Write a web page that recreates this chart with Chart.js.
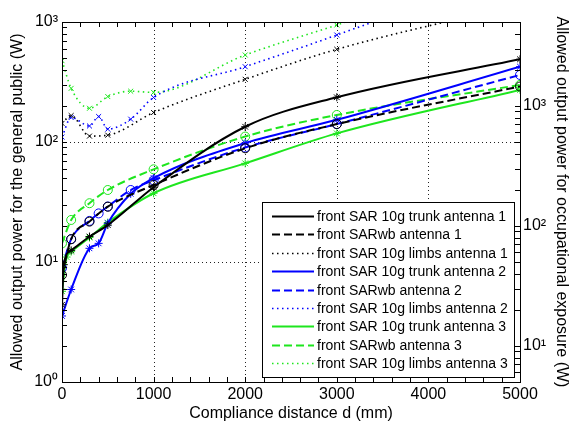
<!DOCTYPE html>
<html>
<head>
<meta charset="utf-8">
<script src="https://cdn.jsdelivr.net/npm/chart.js@4.4.0/dist/chart.umd.min.js"></script>
<style>
  html, body { margin: 0; padding: 0; background: #fff; }
  #wrap { width: 573px; height: 433px; }
</style>
</head>
<body>
<div id="wrap"><canvas id="chart" width="573" height="433"></canvas></div>
<script>
'use strict';

// distances (mm) and allowed power (W)
const dTrunk1 = [0, 20, 100, 300, 500, 1000, 2000, 3000, 5000];
const pTrunk1 = [4.4, 9.5, 12.5, 16.3, 20.3, 42, 134, 236, 489];
const dWb1 = [0, 100, 300, 500, 1000, 2000, 3000, 5000];
const pWb1 = [7.8, 15.5, 21.7, 28.9, 43.8, 88.6, 141, 290];
const dLimbs1 = [0, 100, 300, 500, 1000, 2000, 3000, 5000];
const pLimbs1 = [143, 166, 112, 114, 176, 333, 592, 1400];

const dAnt2 = [0, 100, 300, 400, 500, 750, 1000, 2000, 3000, 5000];
const pTrunk2 = [3.55, 5.9, 13, 14.3, 21, 37, 50, 98, 153, 424];
const pWb2 = [8.9, 15.5, 22, 25.4, 29, 39.8, 48, 90, 141, 362];
const pLimbs2 = [110, 160, 136, 163, 128, 155, 235, 424, 779, 2880];

const dTrunk3 = [0, 50, 100, 300, 500, 1000, 2000, 3000, 5000];
const pTrunk3 = [5.7, 11, 12.2, 16, 21.3, 37.4, 66.4, 118, 272];
const dWb3 = [0, 100, 300, 500, 1000, 2000, 3000, 5000];
const pWb3 = [14.3, 22.4, 30.9, 39.8, 59.2, 111, 168, 299];
const dLimbs3 = [0, 100, 300, 500, 750, 1000, 2000, 3000, 5000];
const pLimbs3 = [476, 280, 191, 239, 265, 259, 531, 944, 2990];

const xTicks = [0, 1000, 2000, 3000, 4000, 5000];
const yTicks = [1, 10, 100, 1000];
const y2Ticks = [10, 100, 1000];
const supLabels = { 1: '10\u2070', 10: '10\u00b9', 100: '10\u00b2', 1000: '10\u00b3' };

const BLACK = '#000000';
const BLUE = '#0000ff';
const GREEN = '#1ee61e';
const FONT = '"Liberation Sans", Arial, Helvetica, sans-serif';

function pts(xs, ys) {
  return xs.map((x, i) => ({ x: x, y: ys[i] }));
}

function series(label, xs, ys, color, kind) {
  const ds = {
    label: label,
    data: pts(xs, ys),
    borderColor: color,
    pointBorderColor: color,
    pointBackgroundColor: 'rgba(0,0,0,0)',
    pointBorderWidth: 1,
    borderWidth: 2,
    cubicInterpolationMode: 'monotone',
    yAxisID: 'y'
  };
  if (kind === 'trunk') {
    ds.pointStyle = 'star';
    ds.pointRadius = 4;
  } else if (kind === 'wb') {
    ds.borderDash = [8, 4];
    ds.pointStyle = 'circle';
    ds.pointRadius = 4.5;
  } else {
    ds.borderDash = [1.5, 3.5];
    ds.borderWidth = 1.6;
    ds.pointStyle = 'crossRot';
    ds.pointRadius = 3.5;
  }
  return ds;
}

const datasets = [
  series('front SAR 10g trunk antenna 1', dTrunk1, pTrunk1, BLACK, 'trunk'),
  series('front SARwb antenna 1', dWb1, pWb1, BLACK, 'wb'),
  series('front SAR 10g limbs antenna 1', dLimbs1, pLimbs1, BLACK, 'limbs'),
  series('front SAR 10g trunk antenna 2', dAnt2, pTrunk2, BLUE, 'trunk'),
  series('front SARwb antenna 2', dAnt2, pWb2, BLUE, 'wb'),
  series('front SAR 10g limbs antenna 2', dAnt2, pLimbs2, BLUE, 'limbs'),
  series('front SAR 10g trunk antenna 3', dTrunk3, pTrunk3, GREEN, 'trunk'),
  series('front SARwb antenna 3', dWb3, pWb3, GREEN, 'wb'),
  series('front SAR 10g limbs antenna 3', dLimbs3, pLimbs3, GREEN, 'limbs')
];

function logMinorValues(min, max) {
  const out = [];
  for (let e = -1; e <= 4; e++) {
    for (let m = 1; m < 10; m++) {
      const v = m * Math.pow(10, e);
      if (v >= min - 1e-9 && v <= max + 1e-9) out.push(v);
    }
  }
  return out;
}

// grid, frame, inward ticks and the boxed legend, MATLAB style
const matlabFrame = {
  id: 'matlabFrame',
  beforeDatasetsDraw(chart) {
    const { ctx, chartArea: a, scales } = chart;
    ctx.save();
    ctx.strokeStyle = '#222';
    ctx.lineWidth = 1;
    ctx.setLineDash([1, 3]);
    for (const v of xTicks) {
      if (v === 0 || v === 5000) continue;
      const px = Math.round(scales.x.getPixelForValue(v)) + 0.5;
      ctx.beginPath(); ctx.moveTo(px, a.top); ctx.lineTo(px, a.bottom); ctx.stroke();
    }
    for (const v of yTicks) {
      if (v === 1 || v === 1000) continue;
      const py = Math.round(scales.y.getPixelForValue(v)) + 0.5;
      ctx.beginPath(); ctx.moveTo(a.left, py); ctx.lineTo(a.right, py); ctx.stroke();
    }
    ctx.restore();
  },
  afterDatasetsDraw(chart) {
    const { ctx, chartArea: a, scales } = chart;
    const tl = 5;
    ctx.save();
    ctx.strokeStyle = '#000';
    ctx.lineWidth = 1;
    ctx.setLineDash([]);
    ctx.strokeRect(Math.round(a.left) + 0.5, Math.round(a.top) + 0.5,
      Math.round(a.right - a.left), Math.round(a.bottom - a.top));

    ctx.beginPath();
    for (let v = 0; v <= 5000; v += 200) {
      const px = Math.round(scales.x.getPixelForValue(v)) + 0.5;
      ctx.moveTo(px, a.bottom); ctx.lineTo(px, a.bottom - tl);
      ctx.moveTo(px, a.top); ctx.lineTo(px, a.top + tl);
    }
    for (const v of logMinorValues(1, 1000)) {
      const py = Math.round(scales.y.getPixelForValue(v)) + 0.5;
      ctx.moveTo(a.left, py); ctx.lineTo(a.left + tl, py);
    }
    for (const v of logMinorValues(5, 5000)) {
      const py = Math.round(scales.y2.getPixelForValue(v)) + 0.5;
      ctx.moveTo(a.right, py); ctx.lineTo(a.right - tl, py);
    }
    ctx.stroke();

    // legend box
    const box = { left: 262.5, top: 202.5, right: 514.5, bottom: 377.5 };
    ctx.fillStyle = '#fff';
    ctx.fillRect(box.left, box.top, box.right - box.left, box.bottom - box.top);
    ctx.strokeRect(box.left, box.top, box.right - box.left, box.bottom - box.top);
    ctx.font = '14px ' + FONT;
    ctx.textBaseline = 'middle';
    ctx.textAlign = 'left';
    chart.data.datasets.forEach((ds, i) => {
      const y = Math.round(216 + i * 18.4) + 0.5;
      ctx.strokeStyle = ds.borderColor;
      ctx.lineWidth = ds.borderWidth;
      ctx.setLineDash(ds.borderDash || []);
      ctx.beginPath(); ctx.moveTo(272, y); ctx.lineTo(314, y); ctx.stroke();
      ctx.fillStyle = '#000';
      ctx.fillText(ds.label, 317, y + 1);
    });
    ctx.restore();
  }
};

const tickFont = { family: FONT, size: 16 };
const titleFont = { family: FONT, size: 16 };

new Chart(document.getElementById('chart').getContext('2d'), {
  type: 'line',
  data: { datasets: datasets },
  options: {
    responsive: false,
    animation: false,
    devicePixelRatio: 1,
    layout: { padding: { top: 22, left: 0, right: 0, bottom: 0 } },
    plugins: { legend: { display: false }, tooltip: { enabled: false } },
    scales: {
      x: {
        type: 'linear', min: 0, max: 5000,
        afterBuildTicks(s) { s.ticks = xTicks.map(v => ({ value: v })); },
        ticks: { font: tickFont, color: '#000', padding: 3, maxRotation: 0, callback: v => String(v) },
        grid: { display: false, drawTicks: false },
        border: { display: false },
        title: { display: true, text: 'Compliance distance d (mm)', font: titleFont, color: '#000', padding: { top: 0, bottom: 10 } },
        afterFit(s) { s.height = 51; }
      },
      y: {
        type: 'logarithmic', position: 'left', min: 1, max: 1000,
        afterBuildTicks(s) { s.ticks = yTicks.map(v => ({ value: v })); },
        ticks: { font: tickFont, color: '#000', padding: 4, callback: v => supLabels[v] || '' },
        grid: { display: false, drawTicks: false },
        border: { display: false },
        title: { display: true, text: 'Allowed output power for the general public (W)', font: titleFont, color: '#000', padding: { top: 8, bottom: 0 } },
        afterFit(s) { s.width = 62; }
      },
      y2: {
        type: 'logarithmic', position: 'right', min: 5, max: 5000,
        afterBuildTicks(s) { s.ticks = y2Ticks.map(v => ({ value: v })); },
        ticks: { font: tickFont, color: '#000', padding: 3, callback: v => supLabels[v] || '' },
        grid: { display: false, drawTicks: false },
        border: { display: false },
        title: { display: true, text: 'Allowed output power for occupational exposure (W)', font: titleFont, color: '#000', padding: { top: 2, bottom: 0 } },
        afterFit(s) { s.width = 53; }
      }
    }
  },
  plugins: [matlabFrame]
});
</script>
</body>
</html>
